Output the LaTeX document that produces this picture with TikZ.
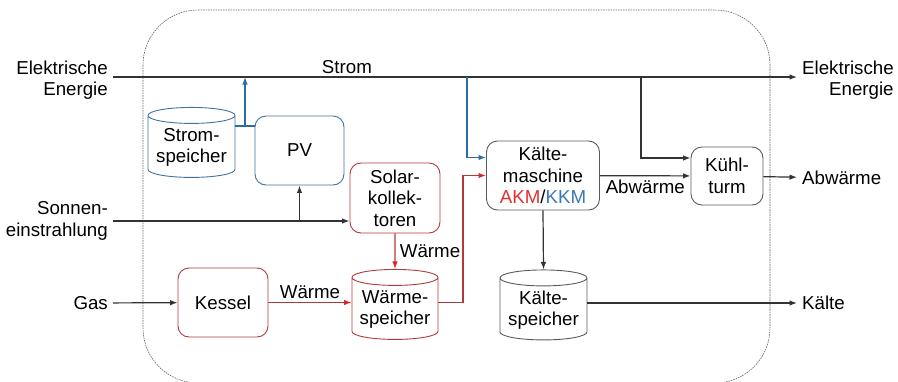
\documentclass[tikz,border=0pt]{standalone}
\usepackage{fontspec}
\setmainfont{Liberation Sans}
\usepackage{xcolor}
\usepackage{tikz}
\usetikzlibrary{arrows.meta,positioning,shapes.geometric,calc}
\definecolor{pvblue}{HTML}{41719C}
\definecolor{elblue}{HTML}{2E6DA4}
\definecolor{heatred}{HTML}{B23A3A}
\definecolor{flowred}{HTML}{E02424}
\definecolor{akmred}{HTML}{E03030}
\definecolor{kkmblue}{HTML}{3C78B4}
\definecolor{greyrule}{HTML}{5A5A5A}

\begin{document}
\begin{tikzpicture}[
  x=1pt,y=-1pt,
  font=\fontsize{18.7}{21.5}\selectfont,
  box/.style={draw=greyrule,rounded corners=11pt,align=center,line width=0.9pt,inner sep=1pt},
  pvbox/.style={box,draw=pvblue},
  heatbox/.style={box,draw=heatred},
  tank/.style={cylinder,shape border rotate=90,aspect=0.22,draw=greyrule,align=center,
               line width=0.9pt,inner sep=1pt,minimum width=87pt,minimum height=70pt,
               label={[align=center]center:#1}},
  io/.style={inner xsep=5pt,inner ysep=0pt},
  ar/.style={-{Latex[length=7.5pt,width=5.5pt]},line width=1.2pt,draw=black!80},
  elar/.style={ar,draw=elblue},
  heat/.style={-{Latex[length=7.5pt,width=5.5pt,color=flowred]},line width=1.2pt,draw=heatred},
  frame/.style={draw=black!60,line width=0.6pt,dash pattern=on 1.6pt off 0.9pt,rounded corners=55pt}
]
\useasboundingbox (0,0) rectangle (898,381);

% system boundary
\draw[frame] (143,10) rectangle (770,383);

% in- and outputs
\node[io,align=right,anchor=east] (elin)   at (113,80)  {Elektrische\\Energie};
\node[io,align=right,anchor=east] (sonne)  at (113,221) {Sonnen-\\einstrahlung};
\node[io,anchor=east]             (gas)    at (113,303) {Gas};
\node[io,align=right,anchor=west] (elout)  at (797,80)  {Elektrische\\Energie};
\node[io,anchor=west]             (abwout) at (797,178) {Abwärme};
\node[io,anchor=west]             (kout)   at (797,303) {Kälte};

% components (storage text sits a bit below the middle)
\node[tank={Strom-\\speicher},draw=pvblue] (sspeicher) at (191.5,147.5)
     {\phantom{Strom-}\\\phantom{speicher}};
\node[pvbox,minimum width=89pt,minimum height=69pt] (pv) at (299.5,150.5) {PV};
\node[heatbox,minimum width=90pt,minimum height=70pt] (solar) at (395,198) {Solar-\\kollek-\\toren};
\node[heatbox,minimum width=90pt,minimum height=69pt] (kessel) at (223,302.5) {Kessel};
\node[tank={Wärme-\\speicher},draw=heatred,minimum width=86pt] (wspeicher) at (395,309.5)
     {\phantom{Wärme-}\\\phantom{speicher}};
\node[box,minimum width=113pt,minimum height=69pt] (km) at (543,175.5)
     {Kälte-\\maschine\\\textcolor{akmred}{AKM}/\textcolor{kkmblue}{KKM}};
\node[box,minimum width=72pt,minimum height=58pt] (kt) at (727,176) {Kühl-\\turm};
\node[tank={Kälte-\\speicher}] (kspeicher) at (543.5,310)
     {\phantom{Kälte-}\\\phantom{speicher}};

% taps
\coordinate (bus) at (0,77);
\coordinate (pvtap) at (245,126);
\coordinate (kmtap) at (467,77);
\coordinate (kttap) at (641,77);
\coordinate (heatup) at (463,0);

% electricity
\draw[ar] (elin.east |- bus) -- (elout.west |- bus) node[pos=0.342,above=-1pt] (stromlbl) {Strom};
\draw[elar,-] (sspeicher.east |- pvtap) -- (pv.west |- pvtap);
\draw[elar] (pvtap) -- (pvtap |- bus);
\draw[elar] (kmtap) |- ([yshift=18pt]km.west);
\draw[ar] (kttap) |- ([yshift=18pt]kt.west);

% sun
\draw[ar] (sonne.east) -- (sonne.east -| solar.west);
\draw[ar] (sonne.east -| pv.south) -- (pv.south);

% heat
\draw[heat] (solar.south) -- (wspeicher.north) node[midway,right=1pt] (wlbl1) {Wärme};
\draw[ar] (gas) -- (kessel);
\draw[heat] (kessel) -- (wspeicher.west |- kessel.east) node[midway,above=0pt] (wlbl2) {Wärme};
\draw[heat] (wspeicher.east |- kessel.east) -| (heatup |- km.west) -- (km.west);

% cold side
\draw[ar] (km) -- (kt) node[midway,below=0pt] (abwlbl) {Abwärme};
\draw[ar] (kt) -- (abwout);
\draw[ar] (km.south) -- (kspeicher.north);
\draw[ar] (kspeicher.east |- kout) -- (kout.west);
\end{tikzpicture}
\end{document}
